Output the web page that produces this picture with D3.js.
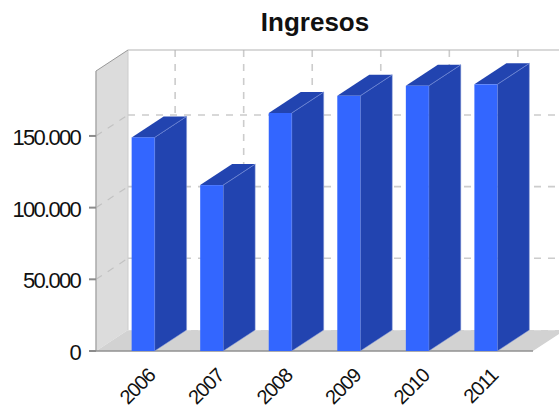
<!DOCTYPE html>
<html lang="es">
<head>
<meta charset="UTF-8">
<title>Ingresos</title>
<script src="https://d3js.org/d3.v7.min.js"></script>
<style>
  html, body { margin: 0; padding: 0; background: #fff; }
  svg { display: block; }
  text { font-family: "Liberation Sans", Arial, sans-serif; fill: #111; }
  .tick-y { font-size: 22px; letter-spacing: -1.7px; }
  .tick-x { font-size: 20px; letter-spacing: -1px; }
</style>
</head>
<body>
<svg id="chart" width="559" height="407"></svg>
<script>
// datos
var years = ["2006", "2007", "2008", "2009", "2010", "2011"];
var ingresos = [149000, 115700, 166000, 178000, 185000, 186000];
var yTicks = [0, 50000, 100000, 150000];
var yTickLabels = ["0", "50.000", "100.000", "150.000"];
var titleText = "Ingresos";

var width = 559, height = 407;
var depthX = 32, depthY = -21;   // desplazamiento 3D
var plotLeft = 96, plotRight = 533, plotBottom = 351, plotTop = 71;

var svg = d3.select("#chart");

var x = d3.scaleBand().domain(years).range([plotLeft, plotRight])
    .paddingInner(0.665).paddingOuter(0.52);
var y = d3.scaleLinear().domain([0, 195300]).range([plotBottom, plotTop]);

var wallColor = "#dcdcdc", floorColor = "#d2d2d2", lineColor = "#aaaaaa";
var gridColor = "#cccccc";

function pts(a) { return a.map(function(p) { return p.join(","); }).join(" "); }

function poly(points, fill) {
    return svg.append("polygon").attr("points", pts(points)).attr("fill", fill);
}

// pared izquierda y suelo
poly([[plotLeft, plotBottom], [plotLeft + depthX, plotBottom + depthY], [plotLeft + depthX, plotTop + depthY], [plotLeft, plotTop]], wallColor);
poly([[plotLeft, plotBottom], [plotLeft + depthX, plotBottom + depthY], [plotRight + depthX, plotBottom + depthY], [plotRight, plotBottom]], floorColor);

// rejilla horizontal, sobre pared y fondo
var grid = svg.append("g").attr("fill", "none").attr("stroke", gridColor)
    .attr("stroke-width", 1.6).attr("stroke-dasharray", "7,7");
yTicks.forEach(function(d) {
    if (d > 0) {
        grid.append("line").attr("x1", plotLeft).attr("y1", y(d))
            .attr("x2", plotLeft + depthX).attr("y2", y(d) + depthY)
            .attr("stroke", "#c2c2c2").attr("stroke-width", 1.2);
        grid.append("line").attr("x1", plotLeft + depthX).attr("y1", y(d) + depthY)
            .attr("x2", width).attr("y2", y(d) + depthY);
    } else {
        // la linea del cero apenas se ve sobre el suelo
        grid.append("line").attr("x1", plotLeft + depthX).attr("y1", y(d) + depthY + 0.5)
            .attr("x2", plotRight + depthX).attr("y2", y(d) + depthY + 0.5)
            .attr("stroke", "#dcdcdc").attr("stroke-width", 1);
    }
});
// rejilla vertical
years.forEach(function(d) {
    var gx = x(d) + x.bandwidth() / 2 + depthX;
    grid.append("line").attr("x1", gx).attr("y1", plotTop + depthY)
        .attr("x2", gx).attr("y2", plotBottom + depthY);
});

// bordes del fondo y de la pared
var frame = svg.append("g").attr("fill", "none");
frame.append("line").attr("x1", plotLeft + depthX).attr("y1", plotTop + depthY)
    .attr("x2", width).attr("y2", plotTop + depthY).attr("stroke", "#b4b4b4").attr("stroke-width", 1.2);
frame.append("line").attr("x1", plotLeft + depthX).attr("y1", plotTop + depthY)
    .attr("x2", plotLeft + depthX).attr("y2", plotBottom + depthY).attr("stroke", "#cccccc");
frame.append("line").attr("x1", plotLeft).attr("y1", plotTop)
    .attr("x2", plotLeft + depthX).attr("y2", plotTop + depthY).attr("stroke", "#999999");
frame.append("line").attr("x1", plotLeft).attr("y1", plotTop)
    .attr("x2", plotLeft).attr("y2", plotBottom).attr("stroke", lineColor).attr("stroke-width", 1.5);
frame.append("line").attr("x1", plotLeft).attr("y1", plotBottom)
    .attr("x2", plotRight).attr("y2", plotBottom).attr("stroke", "#909090").attr("stroke-width", 1.5);

// barras 3D
var bars = svg.append("g").selectAll("g").data(years).enter().append("g");
bars.each(function(d, i) {
    var g = d3.select(this);
    var x0 = x(d), x1 = x0 + x.bandwidth(), y0 = y(ingresos[i]);
    g.append("polygon").attr("fill", "#2244b0").attr("stroke", "#8ea0d8").attr("stroke-width", 0.5)
        .attr("points", pts([[x1, y0], [x1 + depthX, y0 + depthY], [x1 + depthX, plotBottom + depthY], [x1, plotBottom]]));
    g.append("polygon").attr("fill", "#2244b0")
        .attr("points", pts([[x0, y0], [x0 + depthX, y0 + depthY], [x1 + depthX, y0 + depthY], [x1, y0]]));
    g.append("rect").attr("x", x0).attr("y", y0).attr("width", x.bandwidth())
        .attr("height", plotBottom - y0).attr("fill", "#3366ff");
    g.append("line").attr("x1", x1).attr("y1", y0)
        .attr("x2", x1 + depthX).attr("y2", y0 + depthY)
        .attr("stroke", "#6f88d8").attr("stroke-width", 0.6);
});

// marcas y etiquetas del eje y
yTicks.forEach(function(d, i) {
    svg.append("line").attr("x1", plotLeft - 7).attr("x2", plotLeft).attr("y1", y(d)).attr("y2", y(d))
        .attr("stroke", "#8c8c8c").attr("stroke-width", 2);
    svg.append("text").attr("class", "tick-y").attr("x", 80).attr("y", y(d) + 9)
        .attr("text-anchor", "end").text(yTickLabels[i]);
});

// etiquetas del eje x
years.forEach(function(d) {
    var cx = x(d) + x.bandwidth() / 2;
    svg.append("text").attr("class", "tick-x")
        .attr("transform", "translate(" + (cx + 3.5) + ",367) rotate(-45)")
        .attr("text-anchor", "end").attr("dy", "0.7em").text(d);
});

svg.append("text").attr("x", 315).attr("y", 31).attr("text-anchor", "middle")
    .attr("font-size", 26).attr("font-weight", "bold").text(titleText);
</script>
</body>
</html>
